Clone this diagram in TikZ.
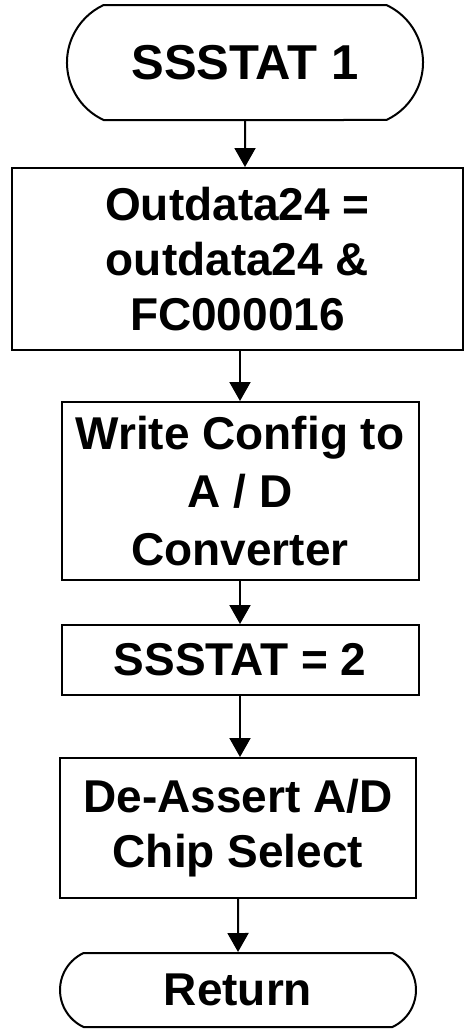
\documentclass[tikz,border=0pt]{standalone}
\usepackage{fontspec}
\setmainfont{Liberation Sans}
\usetikzlibrary{arrows.meta,shapes.misc}

\begin{document}
\begin{tikzpicture}[
  x=1pt, y=1pt,
  term/.style={draw=black, line width=2pt, rounded rectangle,
               rounded rectangle arc length=130, align=center, inner sep=0pt,
               font=\bfseries\fontsize{46}{55}\selectfont},
  proc/.style={draw=black, line width=2pt, rectangle, align=center, inner sep=0pt,
               font=\bfseries\fontsize{46}{55}\selectfont},
  fl/.style={-{Triangle[length=19pt,width=21pt]}, draw=black, line width=2pt},
]

\useasboundingbox (0,0) rectangle (465,-1029);

\def\cx{240}   % common axis of the flow

% ============ terminals and steps ==========================================
\node[term, minimum width=356, minimum height=115,
      font=\bfseries\fontsize{49}{55}\selectfont] (start) at (245,-62.5) {SSSTAT 1};

\node[proc, minimum width=451, minimum height=182] (mask) at (237.5,-259)
  {Outdata24 =\\outdata24 \&\\FC000016};

\node[proc, minimum width=357, minimum height=178] (wcfg) at (\cx,-491)
  {Write Config to\\[3pt]A / D\\[3pt]Converter};

\node[proc, minimum width=357, minimum height=70] (state) at (\cx,-660)
  {SSSTAT = 2};

\node[proc, minimum width=356, minimum height=140] (desel) at (238,-828)
  {De-Assert A/D\\Chip Select};

\node[term, minimum width=356, minimum height=74] (ret) at (238,-990)
  {Return};

% ============ flows ========================================================
\draw[fl] (start) -- (start |- mask.north);
\draw[fl] (wcfg |- mask.south) -- (wcfg);
\draw[fl] (wcfg) -- (state);
\draw[fl] (state) -- (state |- desel.north);
\draw[fl] (desel) -- (ret);

\end{tikzpicture}
\end{document}
